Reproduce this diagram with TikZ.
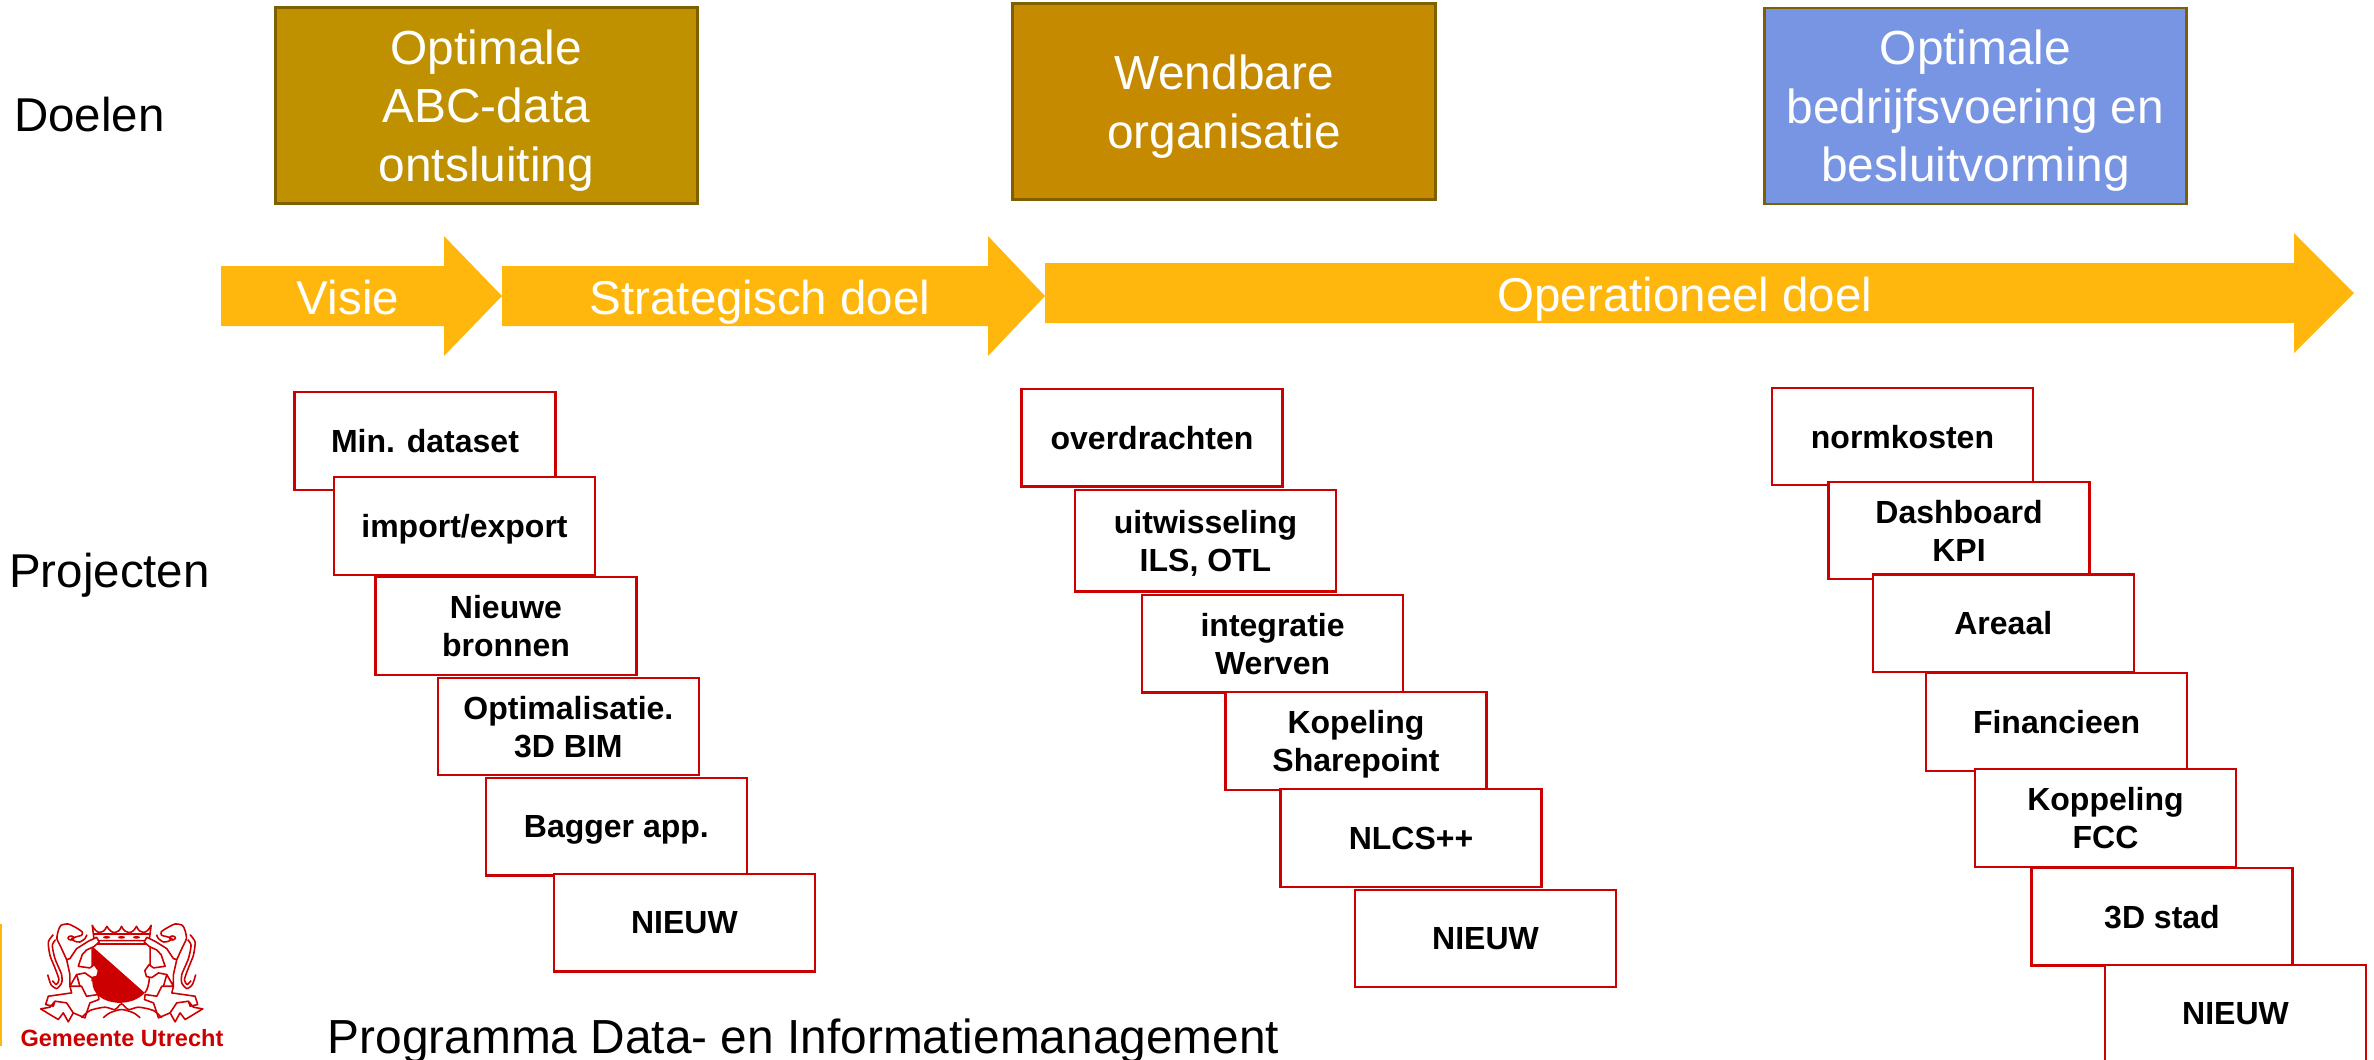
\documentclass[tikz,border=0pt]{standalone}
\usepackage{fontspec}
\setmainfont{Liberation Sans}
\definecolor{pijlgeel}{HTML}{FFB70D}
\definecolor{rood}{HTML}{CC0000}
\definecolor{rand}{HTML}{7F6000}
\definecolor{goud}{HTML}{BF9000}
\definecolor{oker}{HTML}{C68A00}
\definecolor{blauw}{HTML}{7895E4}
\tikzset{
  doel/.style={draw=rand, line width=0.8pt, text=white, align=center, inner sep=0pt, text depth=-2pt,
    minimum width=4.22cm, minimum height=1.96cm, font=\fontsize{13.6}{16.6}\selectfont},
  project/.style={draw=rood, fill=white, line width=0.65pt, align=center, inner sep=0pt, text depth=0pt,
    minimum width=2.61cm, minimum height=0.975cm, font=\fontsize{9.1}{10.8}\selectfont\bfseries},
  pijl/.style={fill=pijlgeel},
  pijltekst/.style={text=white, anchor=base, font=\fontsize{13.5}{16}\selectfont},
  rij/.style={font=\fontsize{13.5}{16}\selectfont},
  wapen/.style={draw=rood, line width=0.45pt, line join=round}
}
\begin{document}
\begin{tikzpicture}[x=0.01cm,y=-0.01cm]
\useasboundingbox (0,0) rectangle (2374,1059);
\node [rij] (doelen) at (89.5,115) {Doelen};
\node [rij] (projecten) at (109.5,575) {Projecten};
\node [doel, fill=goud] (d1) at (486.3,105.5) {Optimale\\ABC-data\\ontsluiting};
\node [doel, fill=oker] (d2) at (1224,101.5) {Wendbare\\organisatie};
\node [doel, fill=blauw] (d3) at (1975.5,106) {Optimale\\bedrijfsvoering en\\besluitvorming};
\fill [pijl] (221,266) -- (444,266) -- (444,236) -- (502,296) -- (444,356) -- (444,326) -- (221,326) -- cycle;
\fill [pijl] (502,266) -- (988,266) -- (988,236) -- (1045,296) -- (988,356) -- (988,326) -- (502,326) -- cycle;
\fill [pijl] (1045,263) -- (2294,263) -- (2294,233) -- (2354,293) -- (2294,353) -- (2294,323) -- (1045,323) -- cycle;
\node [pijltekst] (visie) at (348,314) {Visie};
\node [pijltekst] (strategisch) at (760,314) {Strategisch doel};
\node [pijltekst] (operationeel) at (1685,311) {Operationeel doel};
\node [project] (a1) at (425,441) {Min. dataset};
\node [project] (a2) at (464.5,526) {import/export};
\node [project] (a3) at (506,626) {Nieuwe\\bronnen};
\node [project] (a4) at (568.4,726.4) {Optimalisatie.\\3D BIM};
\node [project] (a5) at (616.4,826.6) {Bagger app.};
\node [project] (a6) at (684.4,922.6) {NIEUW};
\node [project] (b1) at (1152,437.6) {overdrachten};
\node [project, minimum height=1.015cm] (b2) at (1205.5,540.8) {uitwisseling\\ILS, OTL};
\node [project] (b3) at (1272.6,643.7) {integratie\\Werven};
\node [project] (b4) at (1356,741) {Kopeling\\Sharepoint};
\node [project] (b5) at (1411,838) {NLCS++};
\node [project] (b6) at (1485.5,938.5) {NIEUW};
\node [project] (c1) at (1902.5,436.5) {normkosten};
\node [project] (c2) at (1959,530.5) {Dashboard\\KPI};
\node [project] (c3) at (2003.3,623.2) {Areaal};
\node [project] (c4) at (2056.6,722) {Financieen};
\node [project] (c5) at (2105.5,818) {Koppeling\\FCC};
\node [project] (c6) at (2162,916.6) {3D stad};
\node [project] (c7) at (2235.5,1013.5) {NIEUW};
\fill [pijl] (0,924) rectangle (2,1046);
\begin{scope}[shift={(35,918)},x=0.00333cm,y=-0.00333cm]
  \fill [rood] (172,85) -- (330,225) .. controls (310,245) and (285,255) .. (250,255) .. controls (205,252) and (172,230) .. (172,190) -- cycle;
  \draw [wapen] (172,85) -- (172,190) (330,225) .. controls (346,205) and (346,170) .. (346,78) -- (172,78);
  \draw [wapen] (178,68) -- (172,22) .. controls (185,50) and (205,50) .. (216,25) .. controls (230,50) and (250,50) .. (260,25) .. controls (272,50) and (292,50) .. (305,25) .. controls (316,50) and (335,50) .. (349,22) -- (343,68) -- cycle (176,48) -- (345,48);
  \fill [rood] (215,58) ellipse (11 and 4) (260,58) ellipse (11 and 4) (305,58) ellipse (11 and 4);
  \draw [wapen] plot [smooth] coordinates {(140,300) (165,278) (210,268) (240,275) (260,258) (281,275) (311,268) (356,278) (381,300)};
  \draw [wapen] plot [smooth] coordinates {(205,300) (225,285) (260,275) (296,285) (316,300)};
  \foreach \zijde in {0,1} {
    \begin{scope}[xshift={\zijde*521*0.00333cm},xscale={1-2*\zijde}]
      \draw [wapen] plot [smooth, tension=0.4] coordinates {(95,125) (78,88) (66,62) (70,38) (78,22) (100,18) (125,30) (142,42) (140,52) (125,56) (110,62) (120,70) (135,72) (150,62) (156,50)};
      \draw [wapen] (108,60) ellipse (9 and 6);
      \draw [wapen] plot [smooth, tension=0.4] coordinates {(55,50) (40,72) (45,112) (60,150) (72,185) (64,200) (52,188)};
      \draw [wapen] plot [smooth, tension=0.4] coordinates {(62,65) (52,82) (60,122) (80,170) (80,195) (65,212) (48,200) (38,170)};
      \draw [wapen, fill=white] (105,122) -- (125,92) -- (160,70) -- (185,58) -- (193,72) -- (177,86) -- (155,96) -- (142,110) -- (130,145) -- (165,150) -- (178,140) -- (191,158) -- (186,176) -- (170,179) -- (150,165) -- (125,170) -- (105,205) -- (105,170) -- (95,125) -- cycle;
      \draw [wapen] (105,205) -- (140,205) -- (155,235) -- (190,230) -- (192,245) -- (165,255) -- (160,270) -- (150,300) -- (115,285) -- (100,312) -- (85,285) -- (70,305) -- (45,290) -- (17,273) -- (45,268) -- (60,250) -- (55,265) -- (32,260) -- (40,235) -- (75,230) -- (110,225) -- cycle;
      \draw [wapen] (125,170) -- (135,205) (60,250) -- (95,255) -- (115,285);
    \end{scope}
  }
\end{scope}
\node [text=rood, font=\fontsize{6.7}{8}\selectfont\bfseries] (gemeente) at (122,1038) {Gemeente Utrecht};
\node [rij, font=\fontsize{13.6}{16}\selectfont, anchor=base west, inner sep=0pt] (programma) at (327,1053) {Programma Data- en Informatiemanagement};
\end{tikzpicture}
\end{document}
